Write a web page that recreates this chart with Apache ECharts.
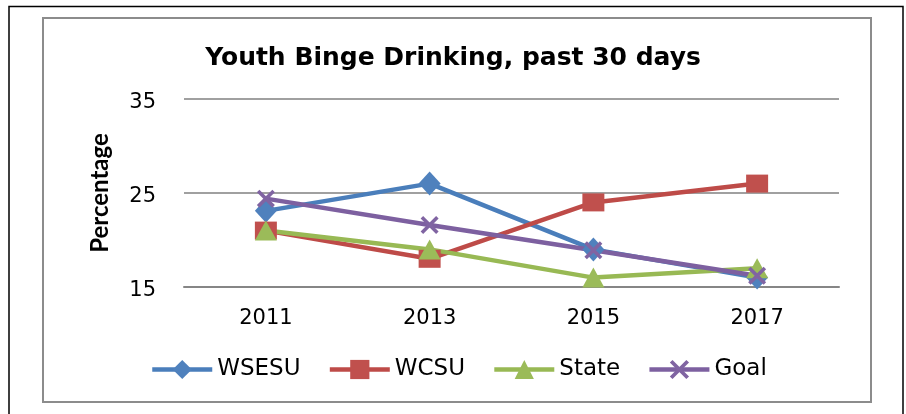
<!DOCTYPE html>
<html>
<head>
<meta charset="utf-8">
<script src="https://cdn.jsdelivr.net/npm/echarts@6/dist/echarts.min.js"></script>
<style>
  html, body { margin: 0; padding: 0; background: #fff; }
  #chart { width: 906px; height: 414px; }
</style>
</head>
<body>
<div id="chart"></div>
<script>
// data
var years = ['2011', '2013', '2015', '2017'];
var wsesu = [23.1, 26, 19, 16];
var wcsu = [21, 18, 24, 26];
var state = [21, 19, 16, 17];
var goal = [24.4, 21.6, 18.9, 16.2];

var txt = 'DejaVu Sans';
var crossPath = 'path://M0,1.4L1.4,0L10,8.6L8.6,10Z M8.6,0L10,1.4L1.4,10L0,8.6Z';

function lineSeries(name, data, color, lineColor, symbol, size) {
    return {
        name: name,
        type: 'line',
        data: data,
        symbol: symbol,
        symbolSize: size,
        showAllSymbol: true,
        itemStyle: { color: color },
        lineStyle: { color: lineColor, width: 4.5 },
        emphasis: { disabled: true },
        animation: false
    };
}

var myChart = echarts.init(document.getElementById('chart'));
myChart.setOption({
    backgroundColor: '#fff',
    title: {
        text: 'Youth Binge Drinking, past 30 days',
        left: 'center',
        top: 41,
        textStyle: { fontFamily: txt, fontWeight: 'bold', fontSize: 25, color: '#000' }
    },
    graphic: [
        {
            type: 'polyline',
            shape: { points: [[9, 414], [9, 6.5], [903, 6.5], [903, 414]] },
            style: { stroke: '#000', lineWidth: 1.5, fill: null },
            silent: true
        },
        {
            type: 'rect',
            shape: { x: 43, y: 18, width: 828, height: 384 },
            style: { stroke: '#8c8c8c', lineWidth: 2, fill: null },
            silent: true
        }
    ],
    grid: { left: 184, right: 67, top: 99, bottom: 127 },
    legend: {
        left: 145,
        top: 353,
        itemWidth: 60,
        itemHeight: 24,
        itemGap: 27,
        lineStyle: { width: 4.5 },
        textStyle: { fontFamily: txt, fontSize: 23, color: '#000' },
        data: ['WSESU', 'WCSU', 'State', 'Goal']
    },
    xAxis: {
        type: 'category',
        data: years,
        boundaryGap: true,
        axisLine: { show: true, lineStyle: { color: '#868686', width: 2 } },
        axisTick: { show: false },
        axisLabel: { fontFamily: txt, fontSize: 21, color: '#000', margin: 21 }
    },
    yAxis: {
        type: 'value',
        min: 15,
        max: 35,
        interval: 10,
        name: 'Percentage',
        nameLocation: 'middle',
        nameRotate: 90,
        nameGap: 72,
        nameTextStyle: { fontFamily: 'Lato', fontWeight: 'bold', fontSize: 24, color: '#000' },
        axisLine: { show: false },
        axisTick: { show: false },
        splitLine: { lineStyle: { color: '#a0a0a0', width: 2 } },
        axisLabel: {
            margin: 28,
            formatter: '{v|{value}}',
            rich: { v: { fontFamily: txt, fontSize: 21, color: '#000', padding: [8, 0, 0, 0] } }
        }
    },
    series: [
        lineSeries('WSESU', wsesu, '#4F81BD', '#4A7EBB', 'diamond', [22, 24]),
        lineSeries('WCSU', wcsu, '#C0504D', '#BE4B48', 'rect', [22, 18]),
        lineSeries('State', state, '#9BBB59', '#98B954', 'triangle', [22, 20]),
        lineSeries('Goal', goal, '#8064A2', '#7D60A0', crossPath, 18)
    ]
});
</script>
</body>
</html>
